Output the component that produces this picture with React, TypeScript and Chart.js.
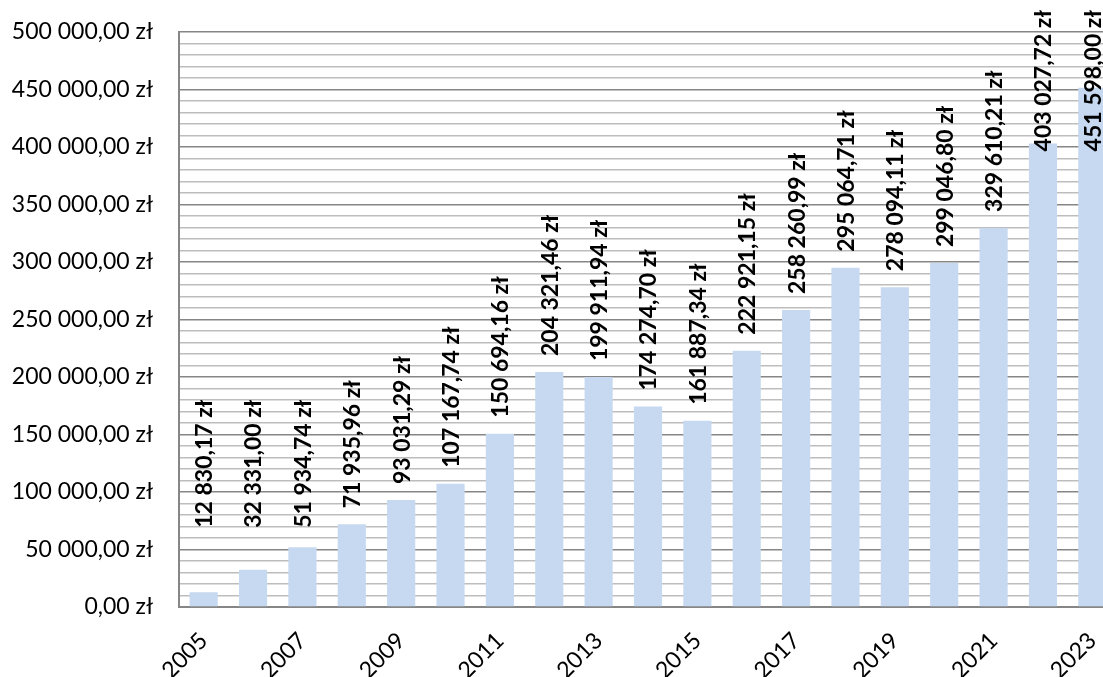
import React, { useEffect, useRef } from "react";
import { Chart, registerables } from "chart.js";

Chart.register(...registerables);

const years = [
  "2005", "2006", "2007", "2008", "2009", "2010", "2011", "2012", "2013", "2014",
  "2015", "2016", "2017", "2018", "2019", "2020", "2021", "2022", "2023",
];

const amounts = [
  12830.17, 32331.0, 51934.74, 71935.96, 93031.29, 107167.74, 150694.16,
  204321.46, 199911.94, 174274.7, 161887.34, 222921.15, 258260.99, 295064.71,
  278094.11, 299046.8, 329610.21, 403027.72, 451598.0,
];

const yMin = 0;
const yMax = 500000;
const minorStep = 10000;
const majorStep = 50000;

const FONT = "Lato, 'Open Sans', sans-serif";

function formatPLN(v: number): string {
  const fixed = v.toFixed(2);
  const [intPart, dec] = fixed.split(".");
  const grouped = intPart.replace(/\B(?=(\d{3})+(?!\d))/g, " ");
  return `${grouped},${dec} zł`;
}

const labelPlugin = {
  id: "rotatedValueLabels",
  afterDatasetsDraw(chart: any) {
    const { ctx } = chart;
    const meta = chart.getDatasetMeta(0);
    const yScale = chart.scales.y;
    const labelFloor = 55000;
    const gap = 16;
    const topLimit = 10;
    ctx.save();
    ctx.font = `bold 23px ${FONT}`;
    ctx.fillStyle = "#000000";
    ctx.textAlign = "left";
    ctx.textBaseline = "middle";
    meta.data.forEach((bar: any, i: number) => {
      const v = amounts[i];
      const text = formatPLN(v);
      const w = ctx.measureText(text).width;
      let bottom = yScale.getPixelForValue(Math.max(v, labelFloor)) - gap;
      if (bottom - w < topLimit) bottom = topLimit + w;
      ctx.save();
      ctx.translate(bar.x + 1, bottom);
      ctx.rotate(-Math.PI / 2);
      ctx.fillText(text, 0, 0);
      ctx.restore();
    });
    ctx.restore();
  },
};

export default function App() {
  const canvasRef = useRef<HTMLCanvasElement | null>(null);

  useEffect(() => {
    if (!canvasRef.current) return;
    const chart = new Chart(canvasRef.current, {
      type: "bar",
      data: {
        labels: years,
        datasets: [
          {
            data: amounts,
            backgroundColor: "#C6D9F1",
            borderWidth: 0,
            categoryPercentage: 1,
            barPercentage: 0.57,
          },
        ],
      },
      options: {
        responsive: false,
        animation: false,
        layout: { padding: { top: 32, right: 8, bottom: 0, left: 0 } },
        plugins: {
          legend: { display: false },
          tooltip: { enabled: false },
        },
        scales: {
          x: {
            grid: { display: false, drawTicks: false },
            border: { display: true, color: "#868686", width: 2 },
            ticks: {
              autoSkip: false,
              maxRotation: 45,
              minRotation: 45,
              padding: 20,
              color: "#000000",
              font: { family: FONT, size: 23 },
              callback: (_v: any, i: number) => (i % 2 === 0 ? years[i] : ""),
            },
            afterFit: (scale: any) => {
              scale.height = 70;
              scale.paddingLeft = 0;
              scale.paddingRight = 0;
            },
          },
          y: {
            min: yMin,
            max: yMax,
            border: { display: true, color: "#868686", width: 2 },
            grid: {
              drawTicks: false,
              lineWidth: 1.5,
              color: (ctx: any) =>
                ctx.tick && ctx.tick.value % majorStep === 0 ? "#868686" : "#BDBDBD",
            },
            ticks: {
              stepSize: minorStep,
              autoSkip: false,
              padding: 26,
              color: "#000000",
              font: { family: FONT, size: 23 },
              callback: (v: any) => (Number(v) % majorStep === 0 ? formatPLN(Number(v)) : ""),
            },
            afterFit: (scale: any) => {
              scale.width = 179;
              scale.paddingTop = 0;
              scale.paddingBottom = 0;
            },
          },
        },
      },
      plugins: [labelPlugin],
    });
    return () => chart.destroy();
  }, []);

  return (
    <div
      style={{
        position: "fixed",
        left: 0,
        top: 0,
        width: 1103,
        height: 677,
        overflow: "hidden",
        background: "#ffffff",
      }}
    >
      <canvas ref={canvasRef} width={1125} height={677} style={{ display: "block" }} />
    </div>
  );
}
